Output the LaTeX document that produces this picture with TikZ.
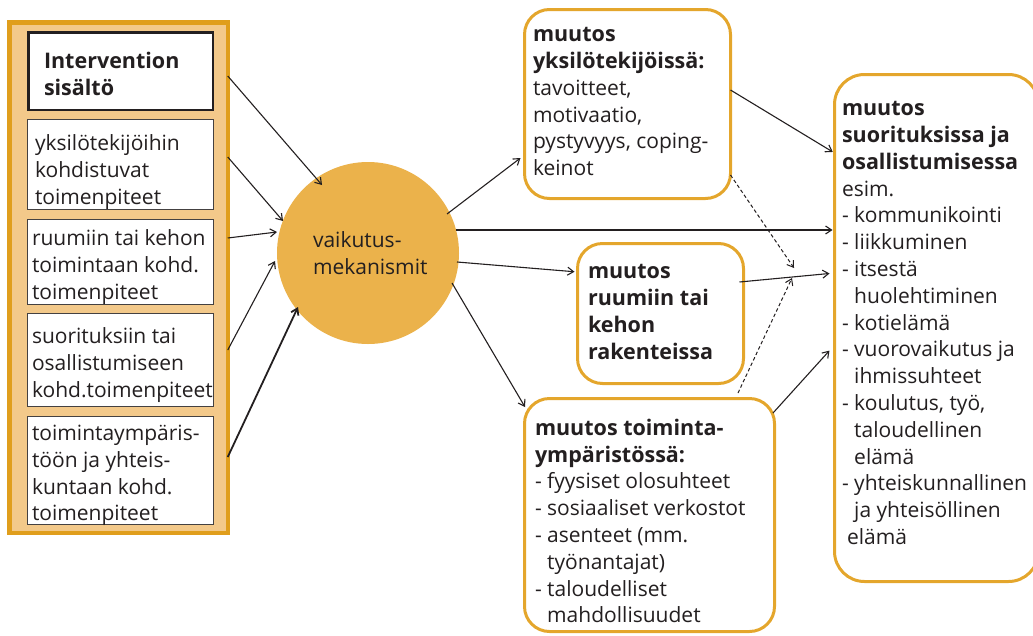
\documentclass[tikz,border=0pt]{standalone}
\usepackage{fontspec}
\setmainfont{Open Sans}
\usetikzlibrary{arrows.meta,calc}
\definecolor{ink}{HTML}{231F20}
\definecolor{panelbd}{HTML}{E09E1C}
\definecolor{panelfill}{HTML}{F3C98A}
\definecolor{circfill}{HTML}{EBB24B}
\definecolor{boxbd}{HTML}{E4A62C}
\newcommand{\bt}[1]{{\fontsize{21.5}{26.8}\selectfont\bfseries #1}}
\newcommand{\hang}{\phantom{- }}
\begin{document}
\begin{tikzpicture}[x=1pt,y=-1pt,
  every node/.style={inner sep=0pt, outer sep=0pt},
  txt/.style={anchor=north west, align=left, text=ink, font=\fontsize{21}{26.8}\selectfont, execute at begin node=\strut},
  panelbox/.style={draw=panelbd, line width=4.5pt, fill=panelfill, anchor=north west},
  ibox/.style={draw=ink!85, line width=1.3pt, fill=white, anchor=north west, minimum width=186pt},
  headbox/.style={draw=ink, line width=2.5pt, fill=white, anchor=north west},
  rbox/.style={draw=boxbd, line width=3pt, fill=white, rounded corners=25pt, anchor=north west},
  conn/.style={draw=ink, line width=1.1pt, -{Straight Barb[length=6pt,width=8pt]}},
  dconn/.style={conn, line width=1pt, dash pattern=on 3.5pt off 2.5pt}]
\useasboundingbox (0,0) rectangle (1033,635);

% left panel
\node[panelbox, minimum width=218.5pt, minimum height=510.5pt] (panel) at (9.25,22.25) {};
\node[headbox, minimum width=184.5pt, minimum height=77.5pt] (b1) at (28.25,32.25) {};
\node[ibox, minimum height=90pt] (b2) at (27.5,119.5) {};
\node[ibox, minimum height=85pt] (b3) at (27.5,219.5) {};
\node[ibox, minimum height=93pt] (b4) at (27.5,313.5) {};
\node[ibox, minimum height=108pt] (b5) at (27.5,416.5) {};

\node[txt] (t1) at (44,52.5) {\bt{Intervention}\\\bt{sisältö}};
\node[txt] (t2) at (35,134.5) {yksilötekijöihin\\kohdistuvat\\toimenpiteet};
\node[txt] (t3) at (32,230) {ruumiin tai kehon\\toimintaan kohd.\\toimenpiteet};
\node[txt] (t4) at (32,327.5) {suorituksiin tai\\osallistumiseen\\kohd.toimenpiteet};
\node[txt] (t5) at (32,425) {toimintaympäris-\\töön ja yhteis-\\kuntaan kohd.\\toimenpiteet};

% circle
\node[circle, fill=circfill, minimum size=182pt] (circ) at (368,253) {};
\node[txt] (tc) at (313,231.5) {vaikutus-\\mekanismit};

% outcome boxes
\node[rbox, minimum width=206pt, minimum height=189pt] (yks) at (524.5,9.5) {};
\node[rbox, minimum width=166pt, minimum height=140pt] (ruu) at (577.5,243.5) {};
\node[rbox, minimum width=250pt, minimum height=233pt] (toi) at (524.5,398.5) {};
\node[rbox, rounded corners=30pt, minimum width=204pt, minimum height=507pt] (right) at (834.5,74.5) {};

\node[txt] (ty) at (533,27.5) {\bt{muutos}\\\bt{yksilötekijöissä:}\\tavoitteet,\\motivaatio,\\pystyvyys, coping-\\keinot};
\node[txt] (tr) at (588,264.5) {\bt{muutos}\\\bt{ruumiin tai}\\\bt{kehon}\\\bt{rakenteissa}};
\node[txt] (tt) at (535,419) {\bt{muutos toiminta-}\\\bt{ympäristössä:}\\- fyysiset olosuhteet\\- sosiaaliset verkostot\\- asenteet (mm.\\\hang työnantajat)\\- taloudelliset\\\hang mahdollisuudet};
\node[txt] (tR) at (842,101.5) {\bt{muutos}\\\bt{suorituksissa ja}\\\bt{osallistumisessa}\\esim.\\- kommunikointi\\- liikkuminen\\- itsestä\\\hang huolehtiminen\\- kotielämä\\- vuorovaikutus ja\\\hang ihmissuhteet\\- koulutus, työ,\\\hang taloudellinen\\\hang elämä\\- yhteiskunnallinen\\\hang ja yhteisöllinen\\\hspace*{5pt}elämä};

% free ends of dashed connectors
\coordinate (m1) at (794,268);
\coordinate (m2) at (792,278);

% connectors into circle
\draw[conn] (panel.east |- 0,76) -- ($(circ.center)+(-46,-68)$);
\draw[conn] (panel.east |- 0,157) -- ($(circ.center)+(-85,-32)$);
\draw[conn] (panel.east |- 0,238) -- ($(circ.center)+(-91,-21)$);
\draw[conn] (panel.east |- 0,350) -- ($(circ.center)+(-93,8)$);
\draw[conn, line width=1.8pt] (panel.east |- 0,457) -- ($(circ.center)+(-70,54)$);

% connectors out of circle
\draw[conn] ($(circ.center)+(79,-39)$) -- ($(yks.west)+(-4,54)$);
\draw[conn, shorten >=2pt] ($(circ.center)+(88,-23)$) -- (right.west |- 0,230);
\draw[conn, shorten >=3pt] ($(circ.center)+(89,9)$) -- (ruu.west |- 0,272);
\draw[conn] ($(circ.center)+(84,30)$) -- ($(toi.north west)+(0.5,8.5)$);

% connectors to right box
\draw[conn, shorten >=2pt] (yks.east |- 0,90) -- (right.west |- 0,153);
\draw[dconn] (yks.east |- 0,175) -- (m1);
\draw[conn, shorten >=5pt] ($(ruu.east |- 0,282)+(-4,0)$) -- (right.west |- 0,273);
\draw[dconn] ($(toi.north)+(88.5,-5.5)$) -- (m2);
\draw[conn, shorten >=7.5pt] ($(toi.north east)+(-1.5,14.5)$) -- (right.west |- 0,345);
\end{tikzpicture}
\end{document}
